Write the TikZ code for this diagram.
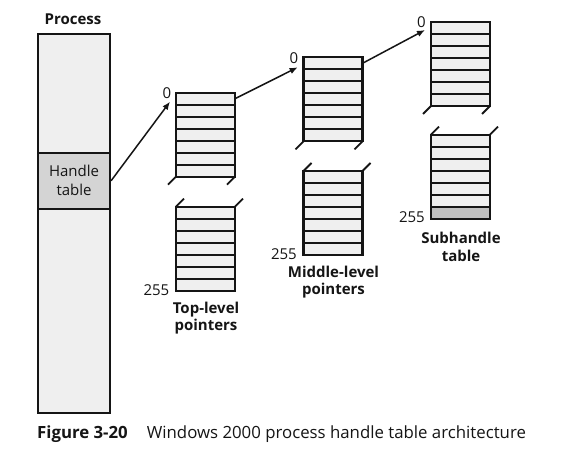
\documentclass[tikz,border=0pt]{standalone}
\usepackage{fontspec}
\setmainfont{Open Sans}
\usetikzlibrary{arrows.meta}
\definecolor{cellfill}{HTML}{EFEFEF}
\definecolor{handlefill}{HTML}{D4D4D4}
\definecolor{lastfill}{HTML}{C0C0C0}
\definecolor{ink}{HTML}{151515}
\tikzset{
  seg/.style={draw=ink, fill=cellfill, line width=2.1pt, minimum width=59pt, minimum height=84pt, inner sep=0pt, outer sep=0pt, anchor=north west},
  rowline/.style={draw=ink, line width=1.9pt},
  brk/.style={draw=ink, line width=1.8pt},
  ptr/.style={draw=ink, line width=1.5pt, -{Latex[length=8pt,width=6.5pt]}},
  idx/.style={font=\fontsize{15}{17}\selectfont, text=ink, inner sep=0pt},
  lbl/.style={font=\fontsize{15}{17.5}\selectfont\bfseries, text=ink, align=center, inner sep=0pt},
}
\newcommand\tabseg[3]{%
  \node[seg] (#1) at (#2,#3) {};
  \foreach \i in {1,...,6} \draw[rowline] (#2,#3+12*\i) -- ++(59,0);
}
\newcommand\upbrk[1]{%
  \draw[brk] (#1.south west) -- ++(-8,8);
  \draw[brk] (#1.south east) -- ++(-8,8);
}
\newcommand\lowbrk[1]{%
  \draw[brk] (#1.north west) -- ++(8,-8);
  \draw[brk] (#1.north east) -- ++(8,-8);
}
\begin{document}
\begin{tikzpicture}[x=1pt,y=-1pt]
\useasboundingbox[fill=white] (0,0) rectangle (571,452);

% Process
\node[draw=ink, fill=cellfill, line width=2.1pt, minimum width=72pt, minimum height=378.7pt, inner sep=0pt, anchor=north west] (proc) at (37,33.3) {};
\node[draw=ink, fill=handlefill, line width=2.1pt, minimum width=72pt, minimum height=56pt, inner sep=0pt, anchor=north west, align=center, font=\fontsize{15}{19}\selectfont, text=ink] (ht) at (37,151.7) {Handle\\table};
\node[lbl] (proclbl) at (73,19.5) {Process};

% Top-level
\tabseg{t1}{176}{92.7}
\tabseg{t2}{176}{206.7}
\upbrk{t1}\lowbrk{t2}
\node[idx, anchor=east] (t0) at (171.5,93) {0};
\node[idx, anchor=east] (t255) at (169.5,290) {255};
\node[lbl, anchor=north] (tlbl) at (206,301.5) {Top-level\\pointers};

% Middle-level
\tabseg{m1}{303.5}{57.3}
\tabseg{m2}{303.5}{171}
\upbrk{m1}\lowbrk{m2}
\node[idx, anchor=east] (m0) at (298.5,58) {0};
\node[idx, anchor=east] (m255) at (297,254) {255};
\node[lbl, anchor=north] (mlbl) at (333.5,265.5) {Middle-level\\pointers};

% Subhandle
\node[seg] (s1) at (431,22) {};
\foreach \i in {1,...,6} \draw[rowline] (431,22+12*\i) -- ++(59,0);
\node[seg] (s2) at (431,134.7) {};
\fill[lastfill] (431,206.7) rectangle (490,218.7);
\draw[draw=ink, line width=2.1pt] (431,134.7) rectangle (490,218.7);
\foreach \i in {1,...,6} \draw[rowline] (431,134.7+12*\i) -- ++(59,0);
\upbrk{s1}\lowbrk{s2}
\node[idx, anchor=east] (s0) at (426,22.5) {0};
\node[idx, anchor=east] (s255) at (425,217) {255};
\node[lbl, anchor=north] (slbl) at (461,232) {Subhandle\\table};

% Pointers
\coordinate (e1) at (170,101.7);
\coordinate (b2) at (235,98.7);
\coordinate (e2) at (297.7,67.3);
\coordinate (b3) at (362.5,63.3);
\coordinate (e3) at (425,30);
\draw[ptr] (ht.east) -- (e1);
\draw[ptr] (b2) -- (e2);
\draw[ptr] (b3) -- (e3);

% Caption
\node[anchor=base west, inner sep=0pt, text=ink, font=\fontsize{16.8}{20}\selectfont] (cap) at (37,438) {\textbf{Figure 3-20}\hspace{19pt}Windows 2000 process handle table architecture};
\end{tikzpicture}
\end{document}
